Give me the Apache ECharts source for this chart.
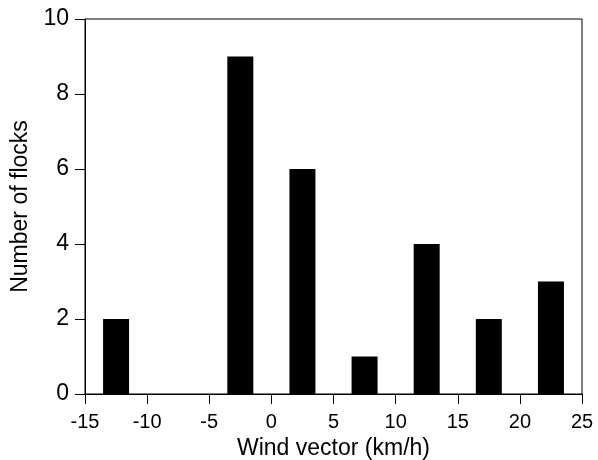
<!DOCTYPE html>
<html>
<head>
<meta charset="utf-8">
<script src="https://cdn.jsdelivr.net/npm/echarts@6/dist/echarts.min.js"></script>
<style>html,body{margin:0;padding:0;background:#fff}#c{width:598px;height:460px}</style>
</head>
<body>
<div id="c"></div>
<script>
const binCenters = [-12.5, -7.5, -2.5, 2.5, 7.5, 12.5, 17.5, 22.5];
const flockCounts = [2, 0, 9, 6, 1, 4, 2, 3];
const xTicks = [-15, -10, -5, 0, 5, 10, 15, 20, 25];
const yTicks = [0, 2, 4, 6, 8, 10];

const chart = echarts.init(document.getElementById('c'), null, {renderer: 'canvas'});
const font = '"Liberation Sans", Arial, sans-serif';
chart.setOption({
  animation: false,
  backgroundColor: '#fff',
  grid: {left: 85, right: 16, top: 19, bottom: 66, show: true, borderColor: '#000', borderWidth: 1,
         containLabel: false, outerBoundsMode: 'none'},
  xAxis: {
    type: 'value', min: xTicks[0], max: xTicks[xTicks.length - 1], interval: 5,
    name: 'Wind vector (km/h)', nameLocation: 'middle', nameGap: 42,
    nameTextStyle: {fontFamily: font, fontSize: 23, color: '#000'},
    axisLine: {show: true, onZero: false, lineStyle: {color: '#000', width: 1}},
    axisTick: {show: true, length: 10, lineStyle: {color: '#000'}},
    axisLabel: {fontFamily: font, fontSize: 20, color: '#000', margin: 18, showMinLabel: true, showMaxLabel: true},
    splitLine: {show: false}
  },
  yAxis: {
    type: 'value', min: yTicks[0], max: yTicks[yTicks.length - 1], interval: 2,
    name: 'Number of flocks', nameLocation: 'middle', nameGap: 52,
    nameTextStyle: {fontFamily: font, fontSize: 23, color: '#000'},
    axisLine: {show: true, onZero: false, lineStyle: {color: '#000', width: 1}},
    axisTick: {show: true, length: 10, lineStyle: {color: '#000'}},
    axisLabel: {fontFamily: font, fontSize: 23, color: '#000', margin: 16},
    splitLine: {show: false}
  },
  series: [{
    type: 'bar',
    barWidth: 26,
    itemStyle: {color: '#000'},
    data: binCenters.map((x, i) => [x, flockCounts[i]])
  }]
});
</script>
</body>
</html>
